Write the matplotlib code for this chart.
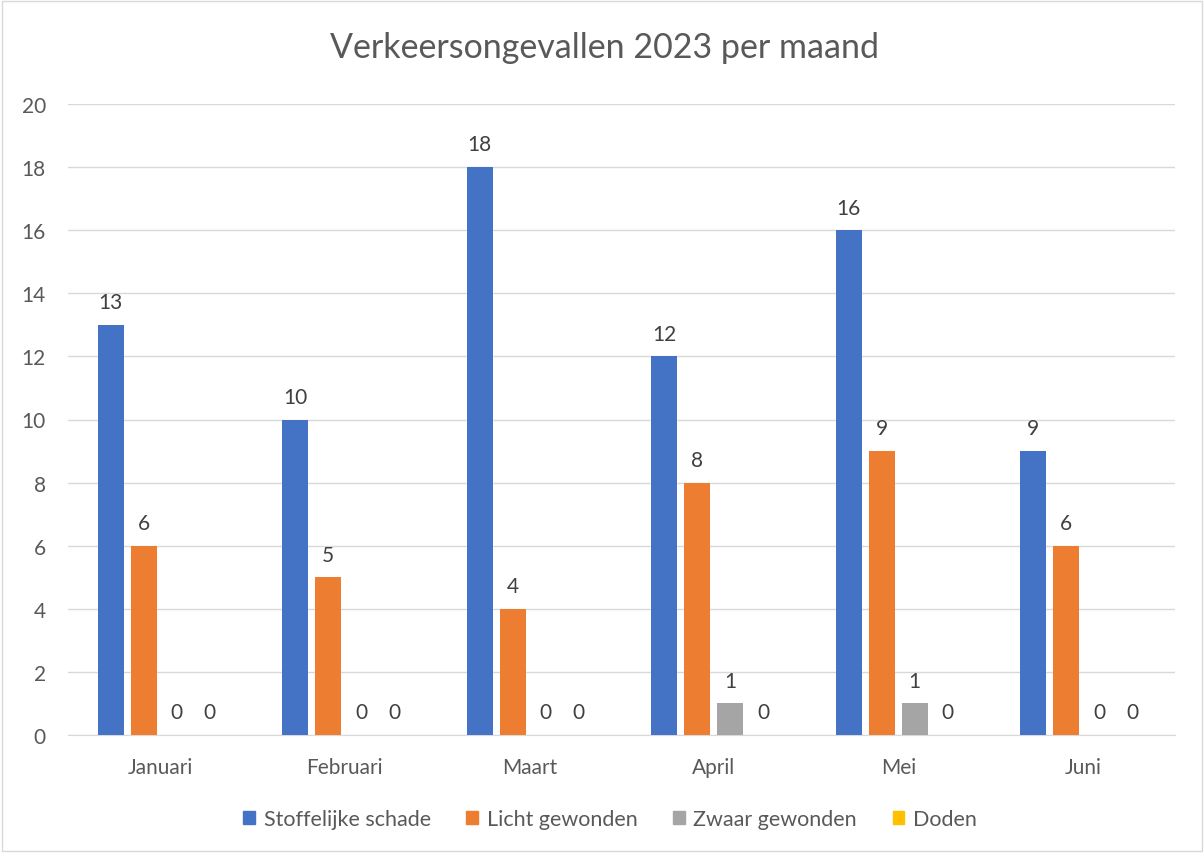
import matplotlib
matplotlib.use("Agg")
import matplotlib.pyplot as plt
import numpy as np

months = ["Januari", "Februari", "Maart", "April", "Mei", "Juni"]
series_names = ["Stoffelijke schade", "Licht gewonden", "Zwaar gewonden", "Doden"]
stoffelijke = [13, 10, 18, 12, 16, 9]
licht = [6, 5, 4, 8, 9, 6]
zwaar = [0, 0, 0, 1, 1, 0]
doden = [0, 0, 0, 0, 0, 0]
colors = ["#4472C4", "#ED7D31", "#A5A5A5", "#FFC000"]
title = "Verkeersongevallen 2023 per maand"

plt.rcParams['font.family'] = ['Lato', 'DejaVu Sans']

fig = plt.figure(figsize=(12.04, 8.54), dpi=100)
ax = fig.add_axes([68/1204, 1 - 736/854, (1175-68)/1204, (736-105)/854])

x = np.arange(len(months))
w = 0.141
step = 0.179
data = [stoffelijke, licht, zwaar, doden]
for i, (vals, c, name) in enumerate(zip(data, colors, series_names)):
    pos = x + (i - 1.5) * step
    ax.bar(pos, vals, width=w, color=c, label=name, zorder=3)
    for p, v in zip(pos, vals):
        ax.text(p, v + 0.4, str(v), ha='center', va='bottom', fontsize=15, color='#404040')

ax.set_xlim(-0.5, 5.5)
ax.set_ylim(0, 20)
ax.set_yticks(range(0, 21, 2))
ax.set_xticks(x)
ax.set_xticklabels(months)
ax.tick_params(axis='both', length=0, labelsize=15, colors='#595959')
ax.tick_params(axis='x', pad=16)
ax.tick_params(axis='y', pad=16)
ax.grid(axis='y', color='#D9D9D9', linewidth=1, zorder=0)
for s in ['top', 'right', 'left']:
    ax.spines[s].set_visible(False)
ax.spines['bottom'].set_color('#D9D9D9')

fig.text(605/1204, 1 - 48/854, title, ha='center', va='center', fontsize=24.5, color='#595959')

handles = [plt.Rectangle((0, 0), 1, 1, color=c) for c in colors]
fig.legend(handles, series_names, loc='center', bbox_to_anchor=(610/1204, 1 - 820/854),
           ncol=4, frameon=False, fontsize=15.5, handlelength=0.55, handleheight=0.55,
           columnspacing=1.65, handletextpad=0.4, labelcolor='#595959')

border = plt.Rectangle((0.002, 0.002), 0.996, 0.996, transform=fig.transFigure,
                       fill=False, edgecolor='#D9D9D9', linewidth=1)
fig.patches.append(border)

fig.savefig("out.png", dpi=100)
